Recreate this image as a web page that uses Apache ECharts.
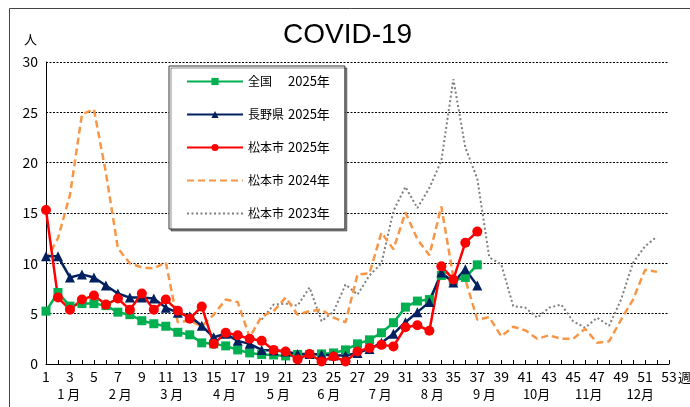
<!DOCTYPE html>
<html>
<head>
<meta charset="utf-8">
<script src="https://cdn.jsdelivr.net/npm/echarts@6/dist/echarts.min.js"></script>
<style>
  html, body { margin: 0; padding: 0; background: #fff; }
  #chart { width: 690px; height: 407px; }
</style>
</head>
<body>
<div id="chart"></div>
<script>
// weekly reports per sentinel site, week 1..n
const national2025 = [5.25, 7.1, 5.75, 6.0, 6.0, 5.8, 5.15, 4.9, 4.3, 4.0, 3.75, 3.15, 2.9, 2.1, 2.0, 1.8, 1.4, 1.1, 0.95, 0.9,
  0.8, 0.95, 0.95, 1.0, 1.1, 1.4, 2.0, 2.4, 3.1, 4.1, 5.65, 6.25, 6.4, 8.8, 8.3, 8.6, 9.85]
const nagano2025 = [10.7, 10.7, 8.6, 8.9, 8.6, 7.8, 7.0, 6.6, 6.6, 6.5, 5.6, 5.1, 4.75, 3.8, 2.65, 3.0, 2.3, 2.0, 1.4, 1.35,
  1.25, 1.0, 1.0, 0.95, 0.85, 0.85, 1.1, 1.5, 2.1, 3.0, 4.15, 5.15, 6.15, 9.1, 8.1, 9.4, 7.8]
const matsumoto2025 = [15.3, 6.6, 5.4, 6.4, 6.8, 5.9, 6.5, 5.4, 7.0, 5.4, 6.4, 5.3, 4.5, 5.7, 2.0, 3.1, 2.85, 2.5, 2.3, 1.4,
  1.25, 0.45, 1.0, 0.25, 0.75, 0.25, 1.25, 1.6, 1.9, 1.75, 3.65, 3.85, 3.3, 9.7, 8.4, 12.05, 13.15]
const matsumoto2024 = [10.3, 12.5, 16.8, 24.8, 25.3, 19.0, 11.5, 10.0, 9.6, 9.5, 10.1, 4.15, 4.3, 3.75, 4.9, 6.4, 6.15, 2.65, 4.75, 5.25,
  6.6, 4.9, 5.25, 5.4, 4.6, 4.15, 8.9, 9.0, 13.05, 11.4, 15.05, 12.4, 10.8, 15.65, 8.6, 8.4, 4.4, 4.65, 2.75, 3.7,
  3.35, 2.5, 2.85, 2.5, 2.5, 3.5, 2.1, 2.25, 4.4, 6.4, 9.35, 9.15]
const matsumoto2023 = [null, null, null, null, null, null, null, null, null, null, null, null, null, null, null, null, null, null, 4.4, 5.9,
  6.0, 5.8, 7.6, 4.25, 5.2, 7.9, 6.9, 8.8, 10.0, 15.2, 17.6, 15.5, 17.5, 20.2, 28.3, 21.5, 18.4, 10.6, 9.9, 5.75,
  5.6, 4.6, 5.6, 5.9, 4.25, 3.6, 4.6, 3.8, 6.4, 10.05, 11.7, 12.65]

const monthLabels = ['1 月', '2 月', '3 月', '4 月', '5 月', '6 月', '7 月', '8 月', '9 月', '10月', '11月', '12月']
const monthWeeks = [2.9, 7.2, 11.5, 15.9, 20.4, 24.6, 28.9, 33.25, 37.6, 41.95, 46.3, 50.6]

const FONT = '"Noto Sans CJK JP", sans-serif'

function toPoints(arr) {
  return arr.map((v, i) => [i + 1, v]).filter(p => p[1] !== null)
}

const chart = echarts.init(document.getElementById('chart'))

chart.setOption({
  animation: false,
  backgroundColor: '#fff',
  title: {
    text: 'COVID-19',
    left: 283,
    top: 21,
    padding: 0,
    textStyle: { fontFamily: '"Liberation Sans", sans-serif', fontSize: 28, fontWeight: 'normal', color: '#000' }
  },
  legend: {
    orient: 'vertical',
    left: 169,
    top: 66,
    padding: [9, 15, 9, 17],
    itemWidth: 56,
    itemHeight: 9,
    itemGap: 20,
    backgroundColor: '#fff',
    borderColor: '#333',
    borderWidth: 1,
    borderRadius: 0,
    shadowColor: 'rgba(0,0,0,0.45)',
    shadowOffsetX: 2,
    shadowOffsetY: 2,
    shadowBlur: 0,
    data: [
      { name: '全国 2025年' },
      { name: '長野県 2025年' },
      { name: '松本市 2025年' },
      { name: '松本市 2024年', itemStyle: { opacity: 0 } },
      { name: '松本市 2023年', itemStyle: { opacity: 0 } }
    ],
    formatter: name => {
      let parts = name.split(' ')
      return '{a|' + parts[0] + '}{b|' + parts[1] + '}'
    },
    textStyle: {
      fontFamily: FONT,
      fontSize: 12,
      color: '#000',
      rich: {
        a: { width: 40, fontFamily: FONT, fontSize: 12 },
        b: { fontFamily: FONT, fontSize: 13 }
      }
    }
  },
  grid: { left: 46, right: 21, top: 62, bottom: 43, containLabel: false },
  xAxis: {
    type: 'value',
    min: 1,
    max: 53,
    interval: 1,
    axisLine: { show: true, lineStyle: { color: '#000', width: 1 } },
    axisTick: { show: true, inside: true, length: 4, lineStyle: { color: '#000' } },
    axisLabel: {
      margin: 6,
      fontFamily: FONT,
      fontSize: 14,
      color: '#000',
      formatter: v => (v % 2 === 1 ? String(v) : '')
    },
    splitLine: { show: false }
  },
  yAxis: {
    type: 'value',
    min: 0,
    max: 30,
    interval: 5,
    name: '人',
    nameLocation: 'end',
    nameGap: 16,
    nameTextStyle: { fontFamily: FONT, fontSize: 13, color: '#000', align: 'right', padding: [0, 9, 0, 0] },
    axisLine: { show: true, lineStyle: { color: '#000', width: 1 } },
    axisTick: { show: false },
    axisLabel: { margin: 8, fontFamily: FONT, fontSize: 14, color: '#000' },
    splitLine: { show: true, lineStyle: { color: '#000', width: 1, type: [2, 1.5] } }
  },
  series: [
    {
      name: '松本市 2023年',
      type: 'line',
      data: toPoints(matsumoto2023),
      symbol: 'none',
      color: '#7f7f7f',
      lineStyle: { color: '#7f7f7f', width: 2, type: [2, 2.5] }
    },
    {
      name: '松本市 2024年',
      type: 'line',
      data: toPoints(matsumoto2024),
      symbol: 'none',
      color: '#F79646',
      lineStyle: { color: '#F79646', width: 2.5, type: [7, 4] }
    },
    {
      name: '全国 2025年',
      type: 'line',
      data: toPoints(national2025),
      symbol: 'rect',
      symbolSize: 9,
      color: '#00B050',
      itemStyle: { color: '#00B050' },
      lineStyle: { color: '#00B050', width: 2.5 }
    },
    {
      name: '長野県 2025年',
      type: 'line',
      data: toPoints(nagano2025),
      symbol: 'triangle',
      symbolSize: 10,
      color: '#002060',
      itemStyle: { color: '#002060' },
      lineStyle: { color: '#002060', width: 2.5 }
    },
    {
      name: '松本市 2025年',
      type: 'line',
      data: toPoints(matsumoto2025),
      symbol: 'circle',
      symbolSize: 10,
      color: '#FF0000',
      itemStyle: { color: '#FF0000' },
      lineStyle: { color: '#FF0000', width: 2.5 }
    }
  ]
})

// month labels under the week axis, the 週 unit, outer frame
let y0 = chart.convertToPixel({ yAxisIndex: 0 }, 0)
let graphics = monthLabels.map((label, i) => ({
  type: 'text',
  x: chart.convertToPixel({ xAxisIndex: 0 }, monthWeeks[i]),
  y: y0 + 30,
  style: {
    text: label,
    fontFamily: FONT,
    fontSize: 13,
    fill: '#000',
    align: 'center',
    verticalAlign: 'middle'
  }
}))
graphics.push({
  type: 'text',
  x: chart.convertToPixel({ xAxisIndex: 0 }, 53) + 9,
  y: y0 + 13,
  style: { text: '週', fontFamily: FONT, fontSize: 13, fill: '#000', align: 'left', verticalAlign: 'middle' }
})
graphics.push({
  type: 'rect',
  shape: { x: 9.5, y: 8.5, width: 720, height: 420 },
  style: { fill: null, stroke: '#444', lineWidth: 1 },
  silent: true
})
chart.setOption({ graphic: graphics })
</script>
</body>
</html>
